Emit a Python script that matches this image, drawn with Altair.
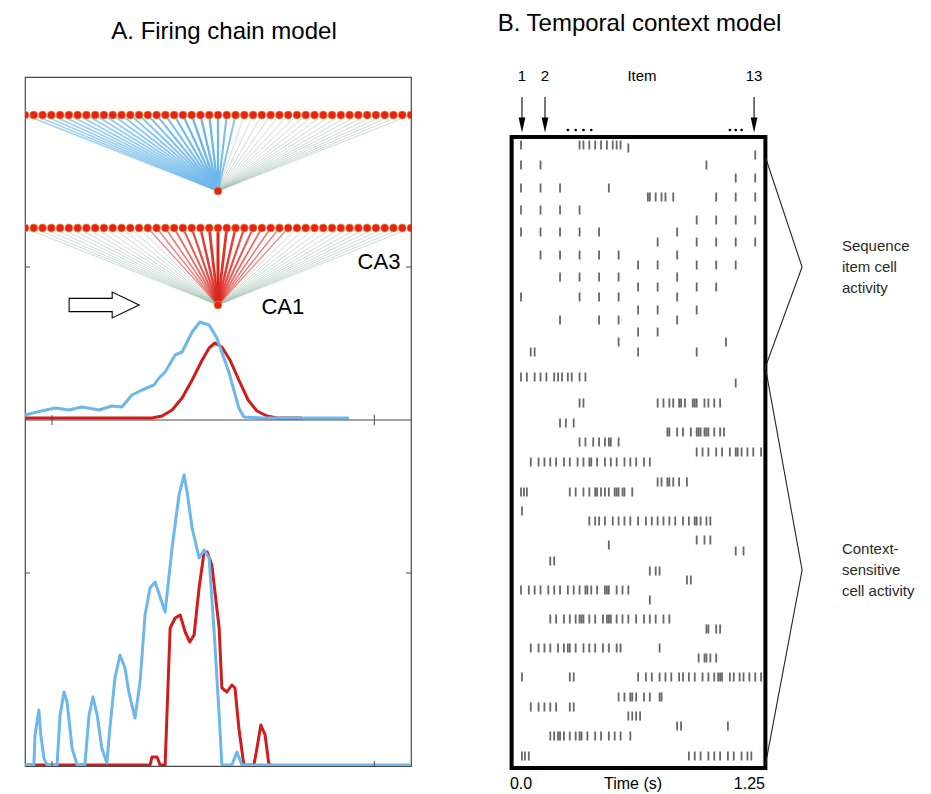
import altair as alt
import pandas as pd

FONT = "Liberation Sans"

# ======================= Panel A: firing chain model =======================
# track position = fraction of panel width (0..1); activity in arbitrary units
top_blue_x = [0.0, 0.031, 0.078, 0.114, 0.148, 0.192, 0.225, 0.251, 0.277, 0.303, 0.334, 0.347, 0.363,
              0.389, 0.407, 0.433, 0.453, 0.477, 0.497, 0.528, 0.554, 0.567, 0.614, 0.718, 0.839]
top_blue_a = [0.03, 0.06, 0.10, 0.08, 0.11, 0.08, 0.12, 0.11, 0.23, 0.28, 0.33, 0.40, 0.46,
              0.63, 0.66, 0.86, 0.96, 0.93, 0.80, 0.46, 0.10, 0.01, 0.0, 0.0, 0.0]
top_red_x = [0.0, 0.329, 0.355, 0.381, 0.407, 0.433, 0.459, 0.477, 0.492, 0.510, 0.531, 0.554, 0.578,
             0.601, 0.627, 0.653, 0.718]
top_red_a = [0.0, 0.0, 0.02, 0.08, 0.20, 0.38, 0.58, 0.70, 0.75, 0.71, 0.58, 0.38, 0.18,
             0.07, 0.02, 0.0, 0.0]

bot_blue_x = [0.0, 0.023, 0.026, 0.036, 0.041, 0.049, 0.057, 0.083, 0.091, 0.101, 0.109, 0.122, 0.135,
              0.155, 0.166, 0.176, 0.187, 0.199, 0.212, 0.220, 0.233, 0.246, 0.259, 0.269, 0.285, 0.298,
              0.311, 0.324, 0.337, 0.350, 0.363, 0.381, 0.399, 0.412, 0.420, 0.433, 0.451, 0.464, 0.477,
              0.490, 0.503, 0.510, 0.536, 0.549, 0.562, 1.0]
bot_blue_a = [0, 0, 0.30, 0.55, 0.30, 0.07, 0, 0, 0.50, 0.73, 0.63, 0.17, 0,
              0, 0.50, 0.68, 0.50, 0.17, 0.02, 0.37, 0.87, 1.10, 0.97, 0.73, 0.47, 0.83,
              1.50, 1.77, 1.83, 1.68, 1.53, 2.17, 2.70, 2.90, 2.73, 2.37, 2.07, 2.15, 2.07,
              1.33, 0.50, 0, 0, 0.13, 0, 0]
bot_red_x = [0.0, 0.324, 0.329, 0.342, 0.350, 0.363, 0.376, 0.389, 0.402, 0.415, 0.427, 0.438, 0.451,
             0.464, 0.472, 0.484, 0.503, 0.510, 0.523, 0.536, 0.544, 0.554, 0.567, 0.593, 0.601, 0.611,
             0.622, 0.632, 0.640]
bot_red_a = [0, 0, 0.08, 0.08, 0, 0, 1.37, 1.47, 1.50, 1.33, 1.23, 1.30, 1.77,
             2.13, 2.13, 2.00, 1.37, 0.77, 0.73, 0.80, 0.77, 0.37, 0, 0, 0.17, 0.40,
             0.30, 0, 0]

# network: 45 CA3 cells converging onto one CA1 cell (two snapshots)
ca3_cells = list(range(45))
blue_cells = list(range(0, 25))
blue_strength = [0.35, 0.35, 0.38, 0.40, 0.42, 0.45, 0.48, 0.50, 0.52, 0.55, 0.58, 0.60, 0.65,
                 0.70, 0.75, 0.80, 0.85, 0.90, 0.95, 1.0, 1.0, 1.0, 1.0, 0.85, 0.70]
red_cells = list(range(14, 31))
red_strength = [0.30, 0.35, 0.40, 0.50, 0.60, 0.70, 0.80, 0.90, 1.0, 0.90, 0.80, 0.70, 0.60,
                0.50, 0.40, 0.35, 0.30]

# vertical layout of panel A (units of the y scale)
upper_ca3, upper_ca1 = 6.51, 5.75
lower_ca3, lower_ca1 = 5.38, 4.61
top_base, bottom_base, divider = 3.48, 0.01, 3.46

BLUE, RED, GRAY = "#6db7ea", "#cf1d1d", "#a3c2b2"

# ---- build tables ----
curves = []
for xs, ys, s, base, p in [(top_red_x, top_red_a, "red", top_base, "top"),
                           (top_blue_x, top_blue_a, "blue", top_base, "top"),
                           (bot_red_x, bot_red_a, "red", bottom_base, "bottom"),
                           (bot_blue_x, bot_blue_a, "blue", bottom_base, "bottom")]:
    for i, (x, a) in enumerate(zip(xs, ys)):
        curves.append({"x": x, "v": a + base, "series": s, "panel": p, "i": i})
curves = pd.DataFrame(curves)

links = []
for c in ca3_cells:
    x = c / (len(ca3_cells) - 1)
    if c in blue_cells:
        s = blue_strength[blue_cells.index(c)]
        links.append({"x": x, "v": upper_ca3, "x2": 0.5, "v2": upper_ca1, "kind": "blue",
                      "w": 1.0 + 1.3 * s, "op": 0.45 + 0.55 * s, "rank": 1 + s})
    else:
        links.append({"x": x, "v": upper_ca3, "x2": 0.5, "v2": upper_ca1, "kind": "gray",
                      "w": 0.7, "op": 0.8, "rank": 0})
    if c in red_cells:
        s = red_strength[red_cells.index(c)]
        links.append({"x": x, "v": lower_ca3, "x2": 0.5, "v2": lower_ca1, "kind": "red",
                      "w": 0.6 + 2.4 * s, "op": 0.35 + 0.65 * s, "rank": 1 + s})
    else:
        links.append({"x": x, "v": lower_ca3, "x2": 0.5, "v2": lower_ca1, "kind": "gray",
                      "w": 0.7, "op": 0.8, "rank": 0})
links = pd.DataFrame(links).sort_values("rank").reset_index(drop=True)

cells = pd.DataFrame(
    [{"x": c / (len(ca3_cells) - 1), "v": lvl} for lvl in (upper_ca3, lower_ca3) for c in ca3_cells]
    + [{"x": 0.5, "v": upper_ca1}, {"x": 0.5, "v": lower_ca1}]
)

XA = alt.Scale(domain=[0, 1], nice=False, zero=False)
YA = alt.Scale(domain=[0, 6.89], nice=False, zero=False)


def ax(f="x"):
    return alt.X(f"{f}:Q", scale=XA, axis=None)


def ay(f="v"):
    return alt.Y(f"{f}:Q", scale=YA, axis=None)


link_layer = alt.Chart(links).mark_rule(clip=True).encode(
    x=ax(), y=ay(), x2="x2:Q", y2="v2:Q",
    color=alt.Color("kind:N", scale=alt.Scale(domain=["gray", "blue", "red"], range=[GRAY, BLUE, "#d8261c"]),
                    legend=None),
    strokeWidth=alt.StrokeWidth("w:Q", scale=None),
    opacity=alt.Opacity("op:Q", scale=None),
    order=alt.Order("rank:Q"),
)

cell_layer = alt.Chart(cells).mark_point(
    shape="circle", filled=True, size=64, fill="#e3231a", stroke="#eb9a3a", strokeWidth=0.7, opacity=1, clip=True
).encode(x=ax(), y=ay())

red_curves = alt.Chart(curves).transform_filter("datum.series == 'red'").mark_line(
    color=RED, strokeWidth=3, strokeJoin="round", clip=True
).encode(x=ax(), y=ay(), detail="panel:N", order="i:Q")
blue_curves = alt.Chart(curves).transform_filter("datum.series == 'blue'").mark_line(
    color=BLUE, strokeWidth=3, strokeJoin="round", clip=True
).encode(x=ax(), y=ay(), detail="panel:N", order="i:Q")

divider_layer = alt.Chart(pd.DataFrame({"v": [divider]})).mark_rule(color="#4a4a4a", strokeWidth=1.2).encode(
    y=ay(), x=alt.value(0), x2=alt.value(386))

# small inward frame ticks
tick_x = [0.07, 0.905]
tick_v = [1.93, 4.99]
xt = pd.DataFrame([{"x": x, "v": b, "v2": b + d} for x in tick_x
                   for b, d in [(0.0, 0.05), (divider, 0.05), (divider, -0.05)]])
yt = pd.DataFrame([{"x": a, "x2": b, "v": v} for v in tick_v for a, b in [(0.0, 0.013), (0.987, 1.0)]])
xtick_layer = alt.Chart(xt).mark_rule(color="#4a4a4a", strokeWidth=1).encode(x=ax(), y=ay(), y2="v2:Q")
ytick_layer = alt.Chart(yt).mark_rule(color="#4a4a4a", strokeWidth=1).encode(x=ax(), x2="x2:Q", y=ay())

arrow_path = "M-1,-0.19L0.23,-0.19L0.23,-0.37L1,0L0.23,0.37L0.23,0.19L-1,0.19Z"
arrow_layer = alt.Chart(pd.DataFrame({"x": [0.205], "v": [4.61]})).mark_point(
    shape=arrow_path, size=4900, filled=True, fill="white", stroke="black", strokeWidth=1.1, opacity=1
).encode(x=ax(), y=ay())

labels_a = pd.DataFrame({"x": [0.917, 0.668], "v": [5.04, 4.59], "t": ["CA3", "CA1"]})
label_layer = alt.Chart(labels_a).mark_text(font=FONT, fontSize=22, color="black").encode(
    x=ax(), y=ay(), text="t:N")

panel_a = alt.layer(
    link_layer, cell_layer, red_curves, blue_curves, divider_layer, xtick_layer, ytick_layer,
    arrow_layer, label_layer
).properties(
    width=386, height=689,
    view=alt.ViewBackground(stroke="#4a4a4a", strokeWidth=1.2),
    title=alt.TitleParams("A. Firing chain model", font=FONT, fontSize=24, fontWeight="normal",
                          color="black", anchor="middle", offset=33, dx=6),
)

# ======================= Panel B: temporal context model =======================
# cell rows (vertical position, cell units) and spike times (s)
spike_rows = [0, 0.3, 1.0, 2.0, 3.3, 4.3, 5.2, 6.5, 7.5, 8.7, 9.7, 11.0, 12.0, 13.2, 14.2, 15.2, 16.5,
              17.5, 18.7, 19.7, 20.7,
              23.2, 23.8, 25.8, 27.8, 28.7, 29.7, 30.7, 31.7, 33.7, 34.7, 36.6, 37.6, 39.5, 40.0, 40.6,
              41.6, 42.6, 43.5, 44.5, 45.5, 47.4, 48.4, 50.3, 51.3, 53.2, 55.2, 56.2, 57.1, 58.1, 59.1, 61.1]
spike_times = [
    [0.0, 0.30, 0.32, 0.35, 0.38, 0.41, 0.44, 0.47, 0.49, 0.51],
    [0.55],
    [1.2],
    [0.0, 0.1, 0.95],
    [1.1, 1.2],
    [0.0, 0.1, 0.2, 0.45],
    [0.65, 0.66, 0.69, 0.72, 0.74, 0.78, 1.0, 1.1, 1.2],
    [0.0, 0.1, 0.2, 0.3],
    [0.9, 1.0, 1.1, 1.2],
    [0.0, 0.1, 0.2, 0.3, 0.4, 0.8],
    [0.7, 0.9, 1.0, 1.1, 1.2],
    [0.1, 0.2, 0.3, 0.4, 0.5, 0.8],
    [0.6, 0.7, 0.9, 1.0, 1.1],
    [0.2, 0.3, 0.4, 0.5, 0.8],
    [0.6, 0.7, 0.9, 1.0],
    [0.0, 0.3, 0.4, 0.5, 0.8],
    [0.6, 0.7, 0.9],
    [0.2, 0.4, 0.5, 0.8],
    [0.6, 0.7],
    [0.5, 1.05],
    [0.05, 0.07, 0.6, 0.9],
    # context-sensitive cells
    [0.00, 0.03, 0.07, 0.10, 0.13, 0.17, 0.19, 0.21, 0.24, 0.26, 0.30, 0.33],
    [1.10],
    [0.30, 0.32, 0.70, 0.73, 0.76, 0.78, 0.81, 0.82, 0.84, 0.88, 0.89, 0.90, 0.94, 0.96, 0.99, 1.02],
    [0.20, 0.23, 0.27],
    [0.75, 0.76, 0.80, 0.83, 0.87, 0.90, 0.91, 0.92, 0.94, 0.95, 0.96, 0.99, 1.02, 1.04],
    [0.30, 0.33, 0.37, 0.40, 0.43, 0.45, 0.46, 0.50],
    [0.90, 0.93, 0.96, 1.00, 1.03, 1.07, 1.10, 1.11, 1.13, 1.16, 1.19, 1.23],
    [0.05, 0.09, 0.12, 0.15, 0.18, 0.22, 0.25, 0.29, 0.32, 0.35, 0.36, 0.39, 0.43, 0.46, 0.49, 0.53,
     0.56, 0.59, 0.63, 0.66],
    [0.70, 0.72, 0.75, 0.76, 0.78, 0.81, 0.85],
    [0.00, 0.015, 0.03, 0.25, 0.28, 0.32, 0.35, 0.38, 0.39, 0.41, 0.43, 0.45, 0.48, 0.49, 0.50, 0.52,
     0.53, 0.57],
    [0.005],
    [0.35, 0.38, 0.40, 0.43, 0.47, 0.50, 0.53, 0.56, 0.60, 0.64, 0.67, 0.70, 0.73, 0.76, 0.79, 0.83,
     0.86, 0.89, 0.90, 0.92, 0.95, 0.97],
    [0.90, 0.94, 0.97],
    [0.45],
    [1.10, 1.14],
    [0.15, 0.17],
    [0.66, 0.69, 0.71],
    [0.85, 0.87],
    [0.00, 0.04, 0.07, 0.10, 0.14, 0.17, 0.20, 0.24, 0.27, 0.30, 0.33, 0.34, 0.36, 0.39, 0.43, 0.44,
     0.45, 0.49, 0.52, 0.55],
    [0.66],
    [0.15, 0.18, 0.22, 0.25, 0.28, 0.30, 0.31, 0.32, 0.35, 0.38, 0.42, 0.44, 0.45, 0.46, 0.49, 0.52,
     0.55, 0.59, 0.63, 0.66, 0.69, 0.73, 0.76],
    [0.95, 0.96, 1.00, 1.02],
    [0.05, 0.09, 0.12, 0.15, 0.19, 0.22, 0.24, 0.25, 0.28, 0.32, 0.35, 0.38, 0.42, 0.45, 0.49, 0.51, 0.71],
    [0.91, 0.94, 0.95, 0.97, 1.00],
    [0.005, 0.25, 0.27, 0.60, 0.64, 0.67, 0.71, 0.74, 0.77, 0.81, 0.83, 0.86, 0.89, 0.93, 0.96, 0.99,
     1.01, 1.02, 1.03, 1.07, 1.09, 1.12, 1.14, 1.17, 1.20, 1.23],
    [0.50, 0.53, 0.56, 0.57, 0.59, 0.63, 0.66, 0.71, 0.72],
    [0.05, 0.09, 0.12, 0.15, 0.18, 0.25, 0.27],
    [0.55, 0.57, 0.59, 0.61],
    [0.80, 0.82, 1.06],
    [0.15, 0.17, 0.19, 0.20, 0.22, 0.25, 0.28, 0.30, 0.31, 0.34, 0.38, 0.41, 0.45, 0.48, 0.51, 0.56],
    [0.005, 0.02, 0.04, 0.86, 0.89, 0.92, 0.96, 0.99, 1.02, 1.06, 1.09, 1.13, 1.16, 1.18],
]

raster_time = [-0.048, 1.252]       # frame of the raster (s)
raster_cells = [-0.8, 62.3]         # frame of the raster (cell units)

items = ["1", "2", "13"]
item_times = [0.005, 0.123, 1.194]

groups = ["Sequence\nitem cell\nactivity", "Context-\nsensitive\ncell activity"]
group_bounds = [1.2, 22.2, 62.0]    # cell extent of each group
group_centers = [12.2, 42.5]

time_labels = ["0.0", "Time (s)", "1.25"]
time_label_pos = [0.0, 0.574, 1.25]

spikes = pd.DataFrame([{"t": t, "r": r} for r, ts in zip(spike_rows, spike_times) for t in ts])

XB = alt.Scale(domain=[(485 - 519) / 195.2, (920 - 519) / 195.2], nice=False, zero=False)
YB = alt.Scale(domain=[-6.8, 63.8], reverse=True, nice=False, zero=False)


def bx(f="t"):
    return alt.X(f"{f}:Q", scale=XB, axis=None)


def by(f="r"):
    return alt.Y(f"{f}:Q", scale=YB, axis=None)


spike_layer = alt.Chart(spikes).mark_tick(orient="vertical", size=9, thickness=1.8, color="#262626").encode(
    x=bx(), y=by())

box_layer = alt.Chart(pd.DataFrame({"t": [raster_time[0]], "t2": [raster_time[1]],
                                    "r": [raster_cells[0]], "r2": [raster_cells[1]]})).mark_rect(
    fillOpacity=0, stroke="black", strokeWidth=4).encode(x=bx(), x2="t2:Q", y=by(), y2="r2:Q")

item_df = pd.DataFrame({"t": item_times, "label": items})
item_text = alt.Chart(item_df).mark_text(font=FONT, fontSize=15, color="black").encode(
    x=bx(), y=alt.value(-1), text="label:N")
item_word = alt.Chart(pd.DataFrame({"t": [0.62], "label": ["Item"]})).mark_text(
    font=FONT, fontSize=15, color="black").encode(x=bx(), y=alt.value(-1), text="label:N")
shaft = alt.Chart(item_df).mark_rule(color="#555555", strokeWidth=1.6).encode(
    x=bx(), y=alt.value(20), y2=alt.value(41))
head_path = "M-0.45,-1L0.45,-1L0,1Z"
heads = alt.Chart(item_df).mark_point(shape=head_path, size=225, filled=True, color="black", opacity=1).encode(
    x=bx(), y=alt.value(48))
dots = alt.Chart(pd.DataFrame({"t": [0.24, 0.28, 0.32, 0.36, 1.07, 1.10, 1.13]})).mark_point(
    shape="circle", filled=True, size=7, color="black", opacity=1).encode(x=bx(), y=alt.value(53))

bracket = pd.DataFrame({
    "t": [1.252, 1.44, 1.252, 1.44, 1.252],
    "r": [group_bounds[0], group_centers[0], group_bounds[1], group_centers[1], group_bounds[2]],
    "o": [0, 1, 2, 3, 4],
})
bracket_layer = alt.Chart(bracket).mark_line(color="#222222", strokeWidth=1.1).encode(
    x=bx(), y=by(), order="o:Q")

group_layer = alt.Chart(pd.DataFrame({"t": [1.644, 1.644], "r": group_centers, "label": groups})).mark_text(
    font=FONT, fontSize=15, color="#2a2a2a", align="left", baseline="middle", lineBreak="\n",
    lineHeight=21, dy=-21
).encode(x=bx(), y=by(), text="label:N")

time_df = pd.DataFrame({"t": time_label_pos, "label": time_labels,
                        "al": ["center", "center", "right"]})
time_layer_c = alt.Chart(time_df).transform_filter("datum.al == 'center'").mark_text(
    font=FONT, fontSize=16, color="black", baseline="middle").encode(
    x=bx(), y=alt.value(707), text="label:N")
time_layer_r = alt.Chart(time_df).transform_filter("datum.al == 'right'").mark_text(
    font=FONT, fontSize=16, color="black", baseline="middle", align="right").encode(
    x=bx(), y=alt.value(707), text="label:N")

panel_b = alt.layer(
    spike_layer, box_layer, item_text, item_word, shaft, heads, dots, bracket_layer, group_layer,
    time_layer_c, time_layer_r
).properties(
    width=435, height=706,
    view=alt.ViewBackground(stroke="transparent"),
    title=alt.TitleParams("B. Temporal context model", font=FONT, fontSize=24, fontWeight="normal",
                          color="black", anchor="middle", offset=33, dx=-65),
)

chart = alt.hconcat(panel_a, panel_b, spacing=76, bounds="flush").properties(
    padding={"left": 15, "top": 3, "right": 0, "bottom": 0},
    background="white",
)

chart.save("out.html", embed_options={"renderer": "svg", "actions": False})
